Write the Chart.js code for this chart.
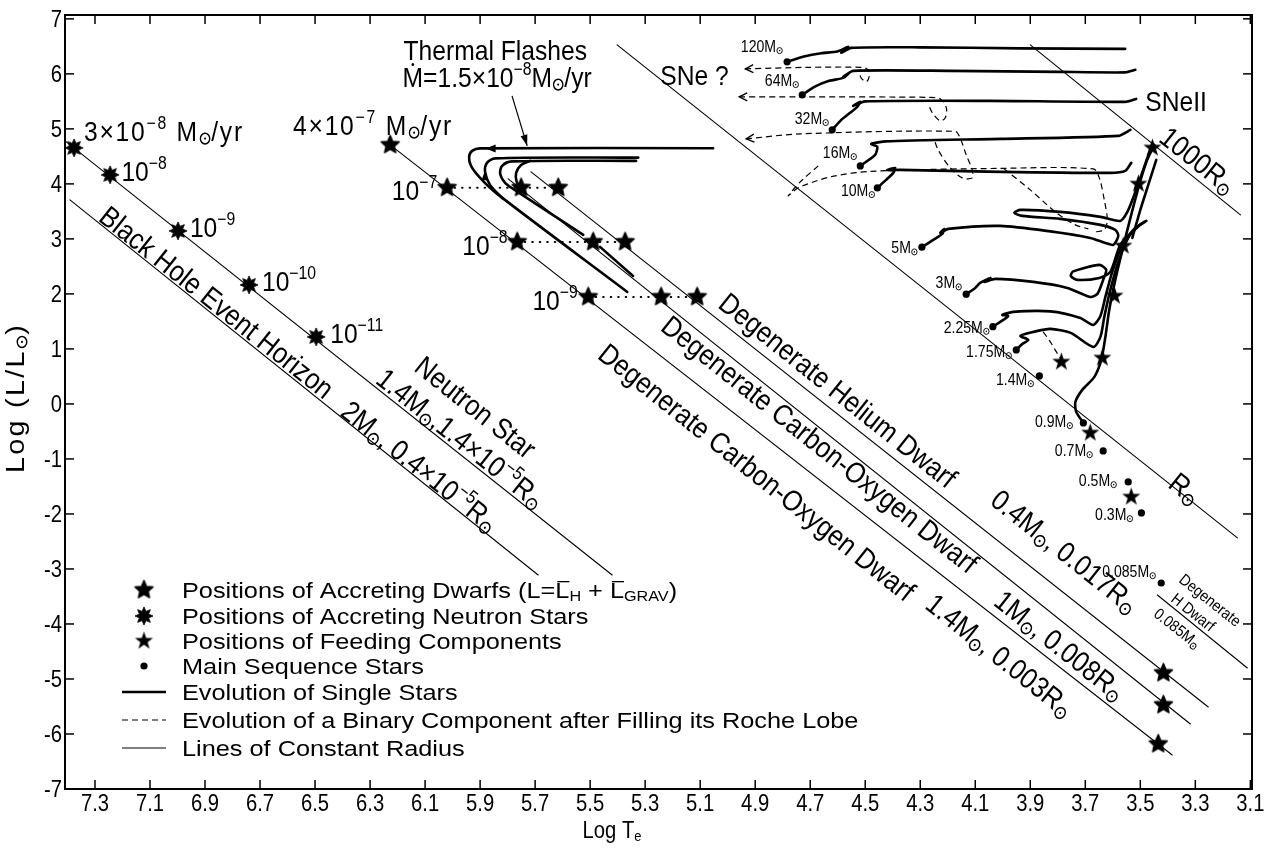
<!DOCTYPE html>
<html><head><meta charset="utf-8">
<script src="https://cdn.jsdelivr.net/npm/chart.js@4.4.1/dist/chart.umd.min.js"></script>
<style>html,body{margin:0;padding:0;background:#fff;overflow:hidden}canvas{display:block}</style>
</head><body>
<canvas id="c" width="1271" height="850"></canvas>
<script>
// ---------- DATA (log Te, log L/Lsun) ----------
const xTicks = [7.3,7.1,6.9,6.7,6.5,6.3,6.1,5.9,5.7,5.5,5.3,5.1,4.9,4.7,4.5,4.3,4.1,3.9,3.7,3.5,3.3,3.1];
const yTicks = [-7,-6,-5,-4,-3,-2,-1,0,1,2,3,4,5,6,7];

// lines of constant radius
const blackHoleLine = [[7.391,3.709],[5.689,-3.109]];
const neutronLine   = [[7.409,4.782],[5.42,-3.109]];
const coDwarf14Line = [[6.227,4.709],[3.384,-6.382]];
const coDwarf10Line = [[5.798,4.091],[3.318,-5.818]];
const heDwarfLine   = [[5.715,4.218],[3.253,-5.509]];
const hDwarfLine    = [[3.438,-3.473],[3.111,-4.8]];
const sunRadiusLine = [[5.402,6.527],[3.147,-2.436]];
const r1000Line     = [[3.9,6.527],[3.136,3.436]];

// markers
const neutronStars = [[7.376,4.655],[7.245,4.164],[6.998,3.145],[6.74,2.164],[6.496,1.218]];
const accretingDwarfs = [[6.227,4.709],[6.02,3.93],[5.751,3.93],[5.616,3.93],[5.765,2.945],[5.489,2.945],[5.373,2.945],[5.507,1.945],[5.242,1.945],[5.111,1.945],[3.416,-4.891],[3.416,-5.473],[3.435,-6.182]];
const feedingStars = [[3.456,4.655],[3.507,4.0],[3.562,2.873],[3.594,1.964],[3.638,0.836],[3.787,0.764],[3.682,-0.527],[3.533,-1.69]];
const msLabels = ['120M@','64M@','32M@','16M@','10M@','5M@','3M@','2.25M@','1.75M@','1.4M@','0.9M@','0.7M@','0.5M@','0.3M@','0.085M@'];
const msT = [4.784,4.729,4.62,4.518,4.456,4.294,4.133,4.036,3.951,3.867,3.707,3.635,3.544,3.496,3.424];
const msL = [6.218,5.618,4.982,4.327,3.927,2.849,1.995,1.405,0.982,0.509,-0.345,-0.855,-1.418,-1.982,-3.255];

// dotted connections
const dots1 = [[6.02,3.93],[5.616,3.93]];
const dots2 = [[5.765,2.945],[5.373,2.945]];
const dots3 = [[5.507,1.945],[5.111,1.945]];

// thermal flash tracks
const flashA = [[5.053,4.649],[5.9,4.645],[5.929,4.6],[5.94,4.491],[5.933,4.327],[5.9,4.109],[5.838,3.818],[5.365,2.036]];
const flashB = [[5.816,3.727],[5.864,3.982],[5.882,4.218],[5.875,4.382],[5.845,4.464],[5.325,4.478]];
const flashC = [[5.333,4.418],[5.784,4.409],[5.82,4.327],[5.827,4.182],[5.809,4.018],[5.78,3.909],[5.525,3.073]];
const flashD = [[5.464,2.855],[5.344,2.327]];
const flashE = [[5.718,4.418],[5.751,4.345],[5.769,4.2],[5.767,4.036],[5.751,3.909]];

// single-star evolutionary tracks
const track120 = [[4.784,6.218],[4.723,6.315],[4.66,6.376],[4.602,6.405],[4.562,6.491],[4.587,6.382],[4.551,6.473],[4.3,6.482],[3.936,6.464],[3.555,6.455]];
const track64 = [[4.729,5.618],[4.685,5.764],[4.631,5.873],[4.58,5.927],[4.558,6.018],[4.58,5.945],[4.544,6.055],[4.191,6.055],[3.791,6.036],[3.555,6.027],[3.518,6.073]];
const track32 = [[4.62,4.982],[4.587,5.164],[4.555,5.291],[4.529,5.4],[4.518,5.491],[4.544,5.418],[4.5,5.5],[4.045,5.509],[3.555,5.491],[3.515,5.545]];
const track16 = [[4.518,4.327],[4.464,4.527],[4.456,4.673],[4.478,4.727],[4.424,4.773],[4.009,4.818],[3.58,4.873],[3.536,4.982]];
const track10 = [[4.456,3.927],[4.424,4.073],[4.398,4.2],[4.391,4.29],[4.42,4.25],[4.375,4.255],[4.009,4.218],[3.609,4.2],[3.555,4.236],[3.533,4.382]];
const track5 = [[4.294,2.849],[4.253,2.982],[4.22,3.091],[4.213,3.182],[4.227,3.109],[4.198,3.182],[4.009,3.236],[3.827,3.136],[3.682,3.018],[3.627,2.927],[3.598,2.891],[3.58,3.055],[3.591,3.164],[3.645,3.255],[3.791,3.364],[3.929,3.418],[3.958,3.473],[3.936,3.527],[3.791,3.491],[3.645,3.4],[3.573,3.327],[3.547,3.491],[3.522,3.8],[3.496,4.164],[3.467,4.582]];
const track3 = [[4.133,1.995],[4.1,2.109],[4.082,2.2],[4.045,2.291],[4.067,2.218],[4.027,2.273],[3.889,2.218],[3.765,2.109],[3.682,1.945],[3.656,2.0],[3.635,2.255],[3.624,2.436],[3.649,2.527],[3.744,2.409],[3.753,2.327],[3.729,2.255],[3.649,2.291],[3.609,2.4],[3.573,2.891],[3.529,3.127],[3.496,3.273]];
const track225 = [[4.036,1.405],[3.998,1.527],[3.98,1.6],[4.002,1.618],[3.962,1.673],[3.827,1.682],[3.718,1.564],[3.671,1.436],[3.645,1.6],[3.627,1.945],[3.602,2.4],[3.565,2.891],[3.522,3.182],[3.485,3.309]];
const track175 = [[3.951,0.982],[3.929,1.091],[3.907,1.164],[3.936,1.236],[3.889,1.309],[3.827,1.364],[3.753,1.291],[3.671,1.036],[3.645,1.218],[3.631,1.582],[3.609,2.073],[3.58,2.582],[3.544,3.018],[3.507,3.236],[3.478,3.327]];
const track09 = [[3.707,-0.345],[3.733,-0.145],[3.736,0.036],[3.711,0.255],[3.667,0.491],[3.642,0.8],[3.627,1.218],[3.613,1.709],[3.591,2.255],[3.565,2.8],[3.536,3.382],[3.504,3.982],[3.475,4.436],[3.449,4.709]];
const giantExtra = [[3.442,4.436],[3.471,3.982],[3.5,3.527],[3.529,3.018]];

// binary-component tracks (dashed)
const binary64 = [[4.936,6.091],[4.711,6.118],[4.511,6.118],[4.489,6.073],[4.485,5.964],[4.496,5.855],[4.515,5.927],[4.522,6.036]];
const binary32 = [[4.958,5.582],[4.736,5.582],[4.264,5.573],[4.227,5.545],[4.205,5.382],[4.209,5.2],[4.227,5.145],[4.256,5.291],[4.271,5.455]];
const binary16 = [[4.933,4.818],[4.736,4.909],[4.173,4.955],[4.155,4.836],[4.133,4.527],[4.111,4.255],[4.111,4.109],[4.147,4.109],[4.191,4.291],[4.235,4.618],[4.249,4.8]];
const binary10 = [[4.671,4.327],[4.736,4.036],[4.78,3.782],[4.744,3.927],[4.627,4.127],[4.482,4.227],[4.009,4.282],[3.671,4.273],[3.649,4.109],[3.631,3.709],[3.62,3.345],[3.631,3.164],[3.664,3.127]];
const binary10b = [[3.995,4.273],[3.9,3.891],[3.809,3.491],[3.736,3.255],[3.689,3.182]];
const binary175 = [[3.853,1.309],[3.827,1.127],[3.805,0.945],[3.791,0.836]];

// annotation texts  (@ = solar symbol, ^{..} superscript, _{..} subscript, ~X overbar, `X dot above)
const textLabels = [
  {s:'3×10^{−8} M@/yr', T:7.34, L:4.782, ls:2},
  {s:'10^{−8}', T:7.204, L:4.055},
  {s:'10^{−9}', T:6.955, L:3.036},
  {s:'10^{−10}', T:6.693, L:2.055},
  {s:'10^{−11}', T:6.445, L:1.109},
  {s:'4×10^{−7} M@/yr', T:6.58, L:4.891, ls:2},
  {s:'Thermal Flashes', T:5.845, L:6.255, align:'center'},
  {s:'`M=1.5×10^{−8}M@/yr', T:5.838, L:5.764, align:'center'},
  {s:'10^{−7}', T:6.056, L:3.709, align:'right'},
  {s:'10^{−8}', T:5.8, L:2.709, align:'right'},
  {s:'10^{−9}', T:5.545, L:1.709, align:'right'},
  {s:'SNe ?', T:5.245, L:5.8},
  {s:'SNeII', T:3.482, L:5.327},
  {s:'Black Hole Event Horizon', T:6.856, L:1.855, rot:1},
  {s:'2M@, 0.4×10^{−5}R@', T:6.118, L:-1.127, rot:1},
  {s:'Neutron Star', T:5.915, L:-0.055, rot:1},
  {s:'1.4M@,1.4×10^{−5}R@', T:5.969, L:-0.618, rot:1},
  {s:'Degenerate Helium Dwarf', T:4.598, L:0.255, rot:1},
  {s:'0.4M@, 0.017R@', T:3.773, L:-2.673, rot:1},
  {s:'Degenerate Carbon-Oxygen Dwarf', T:4.664, L:-0.727, rot:1},
  {s:'1M@, 0.008R@', T:3.791, L:-4.382, rot:1},
  {s:'Degenerate Carbon-Oxygen Dwarf', T:4.893, L:-1.236, rot:1},
  {s:'1.4M@, 0.003R@', T:4.009, L:-4.564, rot:1},
  {s:'1000R@', T:3.289, L:4.436, rot:1},
  {s:'R@', T:3.336, L:-1.527, rot:1},
  {s:'Degenerate', T:3.245, L:-3.564, rot:1, size:16},
  {s:'H Dwarf', T:3.307, L:-3.782, rot:1, size:16},
  {s:'0.085M@', T:3.365, L:-4.073, rot:1, size:16}
];
const msLabelOffsets = [[-4,-10],[-3,-9],[-3,-6],[-3,-8],[-2,8],[-4,6],[-4,-6],[-3,6],[-4,7],[-5,9],[-10,4],[-10,5],[-11,4],[-8,7],[-5,-6]];
const legendText = [
  'Positions of Accreting Dwarfs (L=~L_{H} + ~L_{GRAV})',
  'Positions of Accreting Neutron Stars',
  'Positions of Feeding Components',
  'Main Sequence Stars',
  'Evolution of Single Stars',
  'Evolution of a Binary Component after Filling its Roche Lobe',
  'Lines of Constant Radius'
];

// ---------- rendering helpers ----------
const FF = '"Liberation Sans", "DejaVu Sans", Arial, sans-serif';
const HS = 0.88; // default horizontal scale of lettering
function starCanvas(n, rOut, rIn, stroke) {
  const s = Math.ceil(rOut*2+4), c = document.createElement('canvas');
  c.width = c.height = s;
  const g = c.getContext('2d'); g.translate(s/2, s/2); g.beginPath();
  for (let i=0;i<2*n;i++){ const r = i%2 ? rIn : rOut; const a = -Math.PI/2 + i*Math.PI/n; g.lineTo(r*Math.cos(a), r*Math.sin(a)); }
  g.closePath(); g.fillStyle = '#000'; g.fill();
  if (stroke) { g.lineJoin='round'; g.lineWidth=stroke; g.strokeStyle='#000'; g.stroke(); }
  return c;
}
const accStar = starCanvas(5, 9.5, 4.4, 1.4);
const feedStar = starCanvas(5, 9.5, 3.8, 0);
const burstStar = starCanvas(8, 9, 5, 0.8);

function parseRich(s){
  const out=[]; let buf='';
  const flush=()=>{ if(buf){ out.push({k:'n',t:buf}); buf=''; } };
  for(let i=0;i<s.length;i++){
    const c=s[i];
    if((c==='^'||c==='_') && s[i+1]==='{'){ flush(); const j=s.indexOf('}',i+2); out.push({k:c==='^'?'sup':'sub',t:s.slice(i+2,j)}); i=j; }
    else if(c==='@'){ flush(); out.push({k:'sun'}); }
    else if(c==='~'){ flush(); out.push({k:'bar',t:s[i+1]}); i++; }
    else if(c==='`'){ flush(); out.push({k:'dot',t:s[i+1]}); i++; }
    else buf+=c;
  }
  flush(); return out;
}
function segW(ctx,g,size){
  if(g.k==='sun') return size*0.5;
  ctx.font = ((g.k==='sup'||g.k==='sub')? size*0.64 : size) + 'px ' + FF;
  return ctx.measureText(g.t).width;
}
function drawRich(ctx,s,x,y,size,align,vmid,ls,hs){
  ls = ls||0; hs = hs||HS;
  const segs=parseRich(s);
  ctx.save();
  ctx.letterSpacing = ls+'px';
  const ws=segs.map(g=>segW(ctx,g,size));
  const tot=ws.reduce((a,b)=>a+b,0)*hs;
  const x0 = align==='center' ? x-tot/2 : align==='right' ? x-tot : x;
  ctx.translate(x0, vmid ? y+size*0.36 : y); ctx.scale(hs,1);
  ctx.textAlign='left'; ctx.textBaseline='alphabetic'; ctx.fillStyle='#000'; ctx.strokeStyle='#000';
  let cx=0; const by=0;
  segs.forEach((g,i)=>{
    const w=ws[i];
    if(g.k==='n'){ ctx.font=size+'px '+FF; ctx.fillText(g.t,cx,by); }
    else if(g.k==='sup'){ ctx.font=(size*0.64)+'px '+FF; ctx.fillText(g.t,cx,by-size*0.42); }
    else if(g.k==='sub'){ ctx.font=(size*0.64)+'px '+FF; ctx.fillText(g.t,cx,by+size*0.12); }
    else if(g.k==='sun'){
      const r=size*0.19, sx=cx+size*0.06+r, sy=by-size*0.08;
      ctx.lineWidth=Math.max(1,size*0.055);
      ctx.beginPath(); ctx.arc(sx,sy,r,0,2*Math.PI); ctx.stroke();
      ctx.beginPath(); ctx.arc(sx,sy,Math.max(0.8,size*0.04),0,2*Math.PI); ctx.fill();
    }
    else if(g.k==='bar'){ ctx.font=size+'px '+FF; ctx.fillText(g.t,cx,by); ctx.lineWidth=Math.max(1,size*0.06); ctx.beginPath(); ctx.moveTo(cx+size*0.08,by-size*0.74); ctx.lineTo(cx+w,by-size*0.74); ctx.stroke(); }
    else if(g.k==='dot'){ ctx.font=size+'px '+FF; ctx.fillText(g.t,cx,by); ctx.beginPath(); ctx.arc(cx+w/2,by-size*0.8,size*0.055,0,2*Math.PI); ctx.fill(); }
    cx+=w;
  });
  ctx.restore();
}
function arrowHead(ctx,x,y,dx,dy,len,half,filled){
  const m=Math.hypot(dx,dy), ux=dx/m, uy=dy/m, bx=x-ux*len, by=y-uy*len;
  ctx.beginPath(); ctx.moveTo(bx-uy*half,by+ux*half); ctx.lineTo(x,y); ctx.lineTo(bx+uy*half,by-ux*half);
  if(filled){ ctx.closePath(); ctx.fill(); } else ctx.stroke();
}

// ---------- datasets ----------
const pts = a => a.map(([x,y])=>({x,y}));
function lineDS(a,w,opt){ return Object.assign({data:pts(a),showLine:true,borderColor:'#000',backgroundColor:'#000',borderWidth:w,pointRadius:0,pointHoverRadius:0,tension:0,fill:false,order:2,borderCapStyle:'round',borderJoinStyle:'round'},opt||{}); }
function markDS(a,style,r){ return {data:pts(a),showLine:false,pointStyle:style,pointRadius:r||5,pointHoverRadius:r||5,pointBackgroundColor:'#000',pointBorderColor:'#000',pointBorderWidth:0,order:0}; }
const THIN=1.1, THICK=2.6, DASH={borderDash:[6,4],borderCapStyle:'butt'};
const dashed = a => lineDS(a,1.2,Object.assign({tension:0.3},DASH));
const datasets = [
  markDS(neutronStars,burstStar), markDS(accretingDwarfs,accStar), markDS(feedingStars,feedStar),
  markDS(msT.map((t,i)=>[t,msL[i]]),'circle',3.6),
  lineDS(blackHoleLine,THIN), lineDS(neutronLine,THIN), lineDS(coDwarf14Line,THIN), lineDS(coDwarf10Line,THIN),
  lineDS(heDwarfLine,THIN), lineDS(hDwarfLine,THIN), lineDS(sunRadiusLine,THIN), lineDS(r1000Line,THIN),
  lineDS(dots1,2,{borderDash:[0.5,7]}), lineDS(dots2,2,{borderDash:[0.5,7]}), lineDS(dots3,2,{borderDash:[0.5,7]}),
  lineDS(flashA,THICK,{tension:0.3}), lineDS(flashB,THICK,{tension:0.3}), lineDS(flashC,THICK,{tension:0.3}),
  lineDS(flashD,THICK), lineDS(flashE,THICK,{tension:0.3}),
  lineDS(track120,THICK,{tension:0.2}), lineDS(track64,THICK,{tension:0.2}), lineDS(track32,THICK,{tension:0.2}),
  lineDS(track16,THICK,{tension:0.2}), lineDS(track10,THICK,{tension:0.2}), lineDS(track5,THICK,{tension:0.25}),
  lineDS(track3,THICK,{tension:0.25}), lineDS(track225,THICK,{tension:0.25}), lineDS(track175,THICK,{tension:0.25}),
  lineDS(track09,THICK,{tension:0.25}), lineDS(giantExtra,THICK,{tension:0.2}),
  dashed(binary64), dashed(binary32), dashed(binary16), dashed(binary10), dashed(binary10b), dashed(binary175)
];

// ---------- decoration plugin ----------
const decor = {
  id:'decor',
  afterDatasetsDraw(chart){
    const {ctx, chartArea:a, scales:{x,y}} = chart;
    const P=(T,L)=>[x.getPixelForValue(T), y.getPixelForValue(L)];
    const seg=(x1,y1,x2,y2)=>{ctx.beginPath();ctx.moveTo(x1,y1);ctx.lineTo(x2,y2);ctx.stroke();};
    ctx.save(); ctx.fillStyle='#000'; ctx.strokeStyle='#000'; ctx.lineCap='butt';
    // frame, inward ticks, tick labels
    ctx.lineWidth=2; ctx.strokeRect(a.left,a.top,a.right-a.left,a.bottom-a.top);
    ctx.lineWidth=1.5;
    xTicks.forEach(v=>{const px=x.getPixelForValue(v); seg(px,a.bottom,px,a.bottom-9); seg(px,a.top,px,a.top+9);
      drawRich(ctx,v.toFixed(1),px,a.bottom+22,23,'center',false);});
    yTicks.forEach(v=>{const py=y.getPixelForValue(v); seg(a.left,py,a.left+9,py); seg(a.right,py,a.right-9,py);
      drawRich(ctx,String(v),a.left-3,py,23,'right',true);});
    // rotation angle of constant-radius lines
    const [ax1,ay1]=P(...sunRadiusLine[0]), [ax2,ay2]=P(...sunRadiusLine[1]);
    const ang=Math.atan2(ay2-ay1,ax2-ax1);
    // texts
    textLabels.forEach(l=>{
      const [px,py]=P(l.T,l.L); ctx.save(); ctx.translate(px,py); if(l.rot) ctx.rotate(ang);
      drawRich(ctx,l.s,0,0,l.size||(l.rot?29:28),l.align||(l.rot?'center':'left'),!!l.rot,l.ls||0); ctx.restore();
    });
    msLabels.forEach((s,i)=>{ const [px,py]=P(msT[i],msL[i]); const o=msLabelOffsets[i]; drawRich(ctx,s,px+o[0],py+o[1],16,'right',false); });
    // arrows
    ctx.lineWidth=1.3;
    [binary64,binary32,binary16].forEach(b=>{ const [x0,y0]=P(...b[0]), [x1,y1]=P(...b[1]); arrowHead(ctx,x0,y0,x0-x1,y0-y1,8,4,false); });
    { const [px,py]=P(5.88,4.645); arrowHead(ctx,px,py,-1,0,10,4,true); }
    { const [px,py]=P(5.882,4.25); arrowHead(ctx,px,py,0,-1,10,3.5,true); }
    { const [x0,y0]=P(5.784,5.6), [x1,y1]=P(5.729,4.691); ctx.lineWidth=1.2; seg(x0,y0,x1,y1); arrowHead(ctx,x1,y1,x1-x0,y1-y0,11,3.5,true); }
    // legend
    const rows=[590,616,641,666,692,720,748], sx=144, tx=182;
    ctx.drawImage(accStar,sx-accStar.width/2,rows[0]-accStar.height/2);
    ctx.drawImage(burstStar,sx-burstStar.width/2,rows[1]-burstStar.height/2);
    ctx.drawImage(feedStar,sx-feedStar.width/2,rows[2]-feedStar.height/2);
    ctx.beginPath(); ctx.arc(sx,rows[3],3.6,0,2*Math.PI); ctx.fill();
    ctx.lineWidth=THICK; seg(122,rows[4],166,rows[4]);
    ctx.lineWidth=1.2; ctx.setLineDash([6,4]); seg(122,rows[5],166,rows[5]); ctx.setLineDash([]);
    ctx.lineWidth=THIN; seg(122,rows[6],166,rows[6]);
    legendText.forEach((t,i)=>drawRich(ctx,t,tx,rows[i],22,'left',true,0,1.15));
    // axis titles
    drawRich(ctx,'Log T_{e}',612,838,23,'center',false);
    ctx.save(); ctx.translate(15,398); ctx.rotate(-Math.PI/2); drawRich(ctx,'Log (L/L@)',0,0,25,'center',true,2,1.15); ctx.restore();
    ctx.restore();
  }
};

new Chart(document.getElementById('c'), {
  type:'scatter',
  data:{datasets},
  options:{
    responsive:false, animation:false, devicePixelRatio:1, events:[],
    layout:{padding:{left:0,right:19,top:15,bottom:0}},
    plugins:{legend:{display:false}, tooltip:{enabled:false}},
    scales:{
      x:{type:'linear', reverse:true, min:3.094, max:7.409,
         afterBuildTicks:s=>{s.ticks=xTicks.map(v=>({value:v}));},
         afterFit:s=>{s.height=61;},
         grid:{display:false,drawTicks:false}, border:{display:false},
         ticks:{display:false}},
      y:{type:'linear', min:-7, max:7.07,
         afterBuildTicks:s=>{s.ticks=yTicks.map(v=>({value:v}));},
         afterFit:s=>{s.width=65;},
         grid:{display:false,drawTicks:false}, border:{display:false},
         ticks:{display:false}}
    }
  },
  plugins:[decor]
});
</script></body></html>
